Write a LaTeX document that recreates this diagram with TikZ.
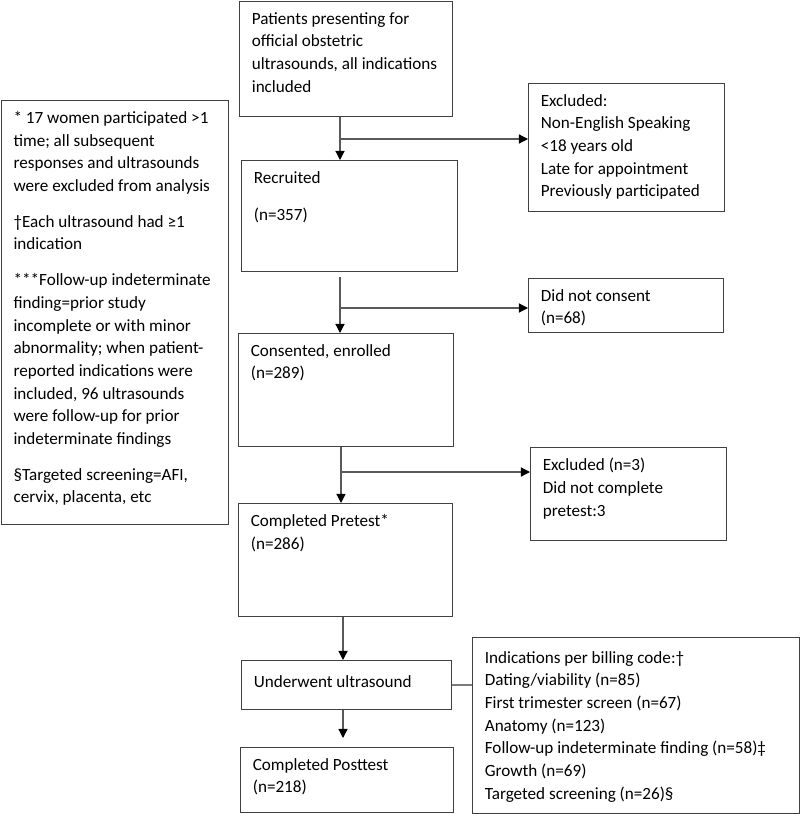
\documentclass[tikz,border=0pt]{standalone}
\usepackage{fontspec}
\setmainfont{Carlito}
\usetikzlibrary{arrows.meta}
\usetikzlibrary{calc}
\definecolor{boxcolor}{HTML}{404040}
\definecolor{linecolor}{HTML}{595959}
\newcommand{\flowfont}{\fontsize{9.75pt}{12.9pt}\selectfont}

\begin{document}
\begin{tikzpicture}[x=0.02cm,y=-0.02cm,
  flowbox/.style={draw=boxcolor,line width=0.7pt,anchor=north west,inner sep=0pt},
  flowtext/.style={anchor=north west,align=left,inner xsep=7.1pt,inner ysep=6.2pt,font=\flowfont,execute at begin node=\strut},
  arr/.style={draw=linecolor,line width=0.7pt,-{Triangle[length=5.2pt,width=5.2pt,color=black]}},
  link/.style={draw=linecolor!80,line width=0.9pt}]
\useasboundingbox (0,0) rectangle (800,814);

% main column
\node[flowbox,minimum width=4.26cm,minimum height=2.30cm] (top) at (239,1) {};
\node[flowtext] (topt) at (top.north west) {Patients presenting for\\official obstetric\\ultrasounds, all indications\\included};
\node[flowbox,minimum width=4.32cm,minimum height=2.22cm] (recr) at (241,160) {};
\node[flowtext] (recrt) at (recr.north west) {Recruited\\[8.6pt](n=357)};
\node[flowbox,minimum width=4.30cm,minimum height=2.26cm] (cons) at (238,333) {};
\node[flowtext] (const) at (cons.north west) {Consented, enrolled\\(n=289)};
\node[flowbox,minimum width=4.28cm,minimum height=2.26cm] (pre) at (238,503) {};
\node[flowtext] (pret) at (pre.north west) {Completed Pretest*\\(n=286)};
\node[flowbox,minimum width=4.20cm,minimum height=0.98cm] (under) at (241,660) {};
\node[flowtext] (undert) at (under.north west) {Underwent ultrasound};
\node[flowbox,minimum width=4.26cm,minimum height=1.30cm] (post) at (240,747) {};
\node[flowtext] (postt) at (post.north west) {Completed Posttest\\(n=218)};

% side boxes
\node[flowbox,minimum width=3.92cm,minimum height=2.56cm] (excl) at (528,83) {};
\node[flowtext] (exclt) at (excl.north west) {Excluded:\\Non-English Speaking\\<18 years old\\Late for appointment\\Previously participated};
\node[flowbox,minimum width=3.90cm,minimum height=1.08cm] (nocons) at (528,278) {};
\node[flowtext] (noconst) at (nocons.north west) {Did not consent\\(n=68)};
\node[flowbox,minimum width=3.92cm,minimum height=1.86cm] (exclb) at (530,447) {};
\node[flowtext] (exclbt) at (exclb.north west) {Excluded (n=3)\\Did not complete\\pretest:3};
\node[flowbox,minimum width=6.54cm,minimum height=3.52cm] (ind) at (472,637) {};
\node[flowtext,yshift=-0.06cm] (indt) at (ind.north west) {Indications per billing code:†\\Dating/viability (n=85)\\First trimester screen (n=67)\\Anatomy (n=123)\\Follow-up indeterminate finding (n=58)‡\\Growth (n=69)\\Targeted screening (n=26)§};

% footnotes
\node[flowbox,minimum width=4.54cm,minimum height=8.48cm] (note) at (0.7,100) {};
\node[flowtext] (notet) at (note.north west) {* 17 women participated >1\\time; all subsequent\\responses and ultrasounds\\were excluded from analysis\\[7.5pt]
†Each ultrasound had ≥1\\indication\\[7.5pt]
***Follow-up indeterminate\\finding=prior study\\incomplete or with minor\\abnormality; when patient-\\reported indications were\\included, 96 ultrasounds\\were follow-up for prior\\indeterminate findings\\[7.5pt]
§Targeted screening=AFI,\\cervix, placenta, etc};

% connectors
\coordinate (j1) at (340,139);
\coordinate (j2) at (340,308);
\coordinate (j3) at (341,472);
\coordinate (j4) at (343,0);
\draw[arr] (top.south -| j1) -- (recr.north -| j1);
\draw[arr] (j1) -- (j1 -| excl.west);
\draw[arr] ($(recr.south -| j2)+(0,5)$) -- (cons.north -| j2);
\draw[arr] (j2) -- (j2 -| nocons.west);
\draw[arr] (cons.south -| j3) -- (pre.north -| j3);
\draw[arr] (j3) -- (j3 -| exclb.west);
\draw[arr] (pre.south -| j4) -- (under.north -| j4);
\draw[arr] (under.south -| j4) -- ($(post.north -| j4)+(0,-9)$);
\draw[link] (under.east) -- (under.east -| ind.west);
\end{tikzpicture}
\end{document}
